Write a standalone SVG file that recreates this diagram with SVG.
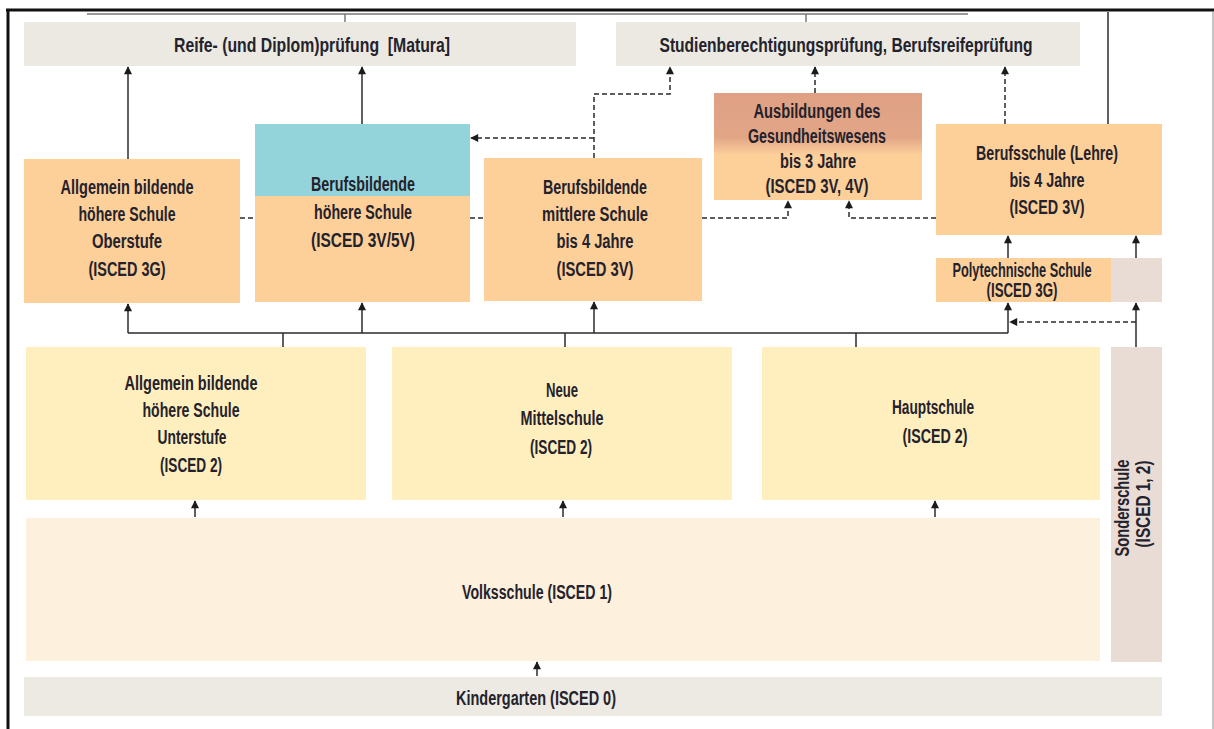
<svg xmlns="http://www.w3.org/2000/svg" width="1214" height="729" viewBox="0 0 1214 729">
  <style>
    .t { font-family: "Liberation Sans", "DejaVu Sans Condensed", "Roboto", sans-serif; font-weight: bold; font-size: 20px; fill: #24222c; text-anchor: middle; }
    .exam { fill: #EBE9E2; }
    .upper { fill: #FDD09A; }
    .lower { fill: #FFEFBE; }
    .prim { fill: #FDF0DC; }
    .spec { fill: #E9DCD5; }
    .kg { fill: #EDEAE3; }
    .solid { fill: none; stroke: #2b2b2b; stroke-width: 1.5; }
    .dash { fill: none; stroke: #2b2b2b; stroke-width: 1.5; stroke-dasharray: 5 3; }
    .thin { fill: none; stroke: #7a7a7a; stroke-width: 1.5; }
  </style>
  <defs>
    <marker id="arr" viewBox="0 0 10 10" refX="9" refY="5" markerWidth="9" markerHeight="8" markerUnits="userSpaceOnUse" orient="auto">
      <path d="M0 0 L10 5 L0 10 Z" fill="#1b1b1b"/>
    </marker>
    <linearGradient id="health" x1="0" y1="0" x2="0" y2="1">
      <stop offset="0" stop-color="#DFA084"/>
      <stop offset="0.42" stop-color="#E2A687"/>
      <stop offset="0.58" stop-color="#FDD09A"/>
      <stop offset="1" stop-color="#FDD09A"/>
    </linearGradient>
  </defs>

  <!-- page frame -->
  <g id="frame">
    <line x1="6" y1="10" x2="1214" y2="10" stroke="#111" stroke-width="3"/>
    <line x1="8" y1="9" x2="8" y2="729" stroke="#111" stroke-width="3"/>
    <line x1="1213" y1="12" x2="1213" y2="729" stroke="#8a8a8a" stroke-width="1"/>
  </g>

  <!-- exams -->
  <g id="matura">
    <rect class="exam" x="24" y="22" width="552" height="44"/>
    <text class="t" x="312" y="52" textLength="276" lengthAdjust="spacingAndGlyphs">Reife- (und Diplom)prüfung&#160; [Matura]</text>
  </g>
  <g id="studienberechtigung">
    <rect class="exam" x="616" y="22" width="464" height="44"/>
    <text class="t" x="846" y="52" textLength="373" lengthAdjust="spacingAndGlyphs">Studienberechtigungsprüfung, Berufsreifeprüfung</text>
  </g>

  <!-- upper secondary -->
  <g id="ahs-oberstufe">
    <rect class="upper" x="24" y="159" width="216" height="144"/>
    <text class="t" x="127" y="194" textLength="133" lengthAdjust="spacingAndGlyphs">Allgemein bildende</text>
    <text class="t" x="127" y="221" textLength="97" lengthAdjust="spacingAndGlyphs">höhere Schule</text>
    <text class="t" x="127" y="248" textLength="70" lengthAdjust="spacingAndGlyphs">Oberstufe</text>
    <text class="t" x="127" y="276" textLength="77" lengthAdjust="spacingAndGlyphs">(ISCED 3G)</text>
  </g>
  <g id="bhs">
    <rect class="upper" x="255" y="124" width="215" height="178"/>
    <rect x="255" y="124" width="215" height="72" fill="#93D4DA"/>
    <text class="t" x="363" y="191" textLength="104" lengthAdjust="spacingAndGlyphs">Berufsbildende</text>
    <text class="t" x="363" y="219" textLength="98" lengthAdjust="spacingAndGlyphs">höhere Schule</text>
    <text class="t" x="363" y="247" textLength="104" lengthAdjust="spacingAndGlyphs">(ISCED 3V/5V)</text>
  </g>
  <g id="bms">
    <rect class="upper" x="484" y="158" width="218" height="143"/>
    <text class="t" x="595" y="194" textLength="104" lengthAdjust="spacingAndGlyphs">Berufsbildende</text>
    <text class="t" x="595" y="221" textLength="106" lengthAdjust="spacingAndGlyphs">mittlere Schule</text>
    <text class="t" x="595" y="248" textLength="77" lengthAdjust="spacingAndGlyphs">bis 4 Jahre</text>
    <text class="t" x="595" y="276" textLength="77" lengthAdjust="spacingAndGlyphs">(ISCED 3V)</text>
  </g>
  <g id="gesundheit">
    <rect x="714" y="93" width="208" height="107" fill="url(#health)"/>
    <text class="t" x="817" y="118" textLength="127" lengthAdjust="spacingAndGlyphs">Ausbildungen des</text>
    <text class="t" x="817" y="143" textLength="138" lengthAdjust="spacingAndGlyphs">Gesundheitswesens</text>
    <text class="t" x="818" y="168" textLength="76" lengthAdjust="spacingAndGlyphs">bis 3 Jahre</text>
    <text class="t" x="817" y="193" textLength="103" lengthAdjust="spacingAndGlyphs">(ISCED 3V, 4V)</text>
  </g>
  <g id="berufsschule">
    <rect class="upper" x="936" y="124" width="226" height="111"/>
    <text class="t" x="1047" y="160" textLength="142" lengthAdjust="spacingAndGlyphs">Berufsschule (Lehre)</text>
    <text class="t" x="1047" y="187" textLength="75" lengthAdjust="spacingAndGlyphs">bis 4 Jahre</text>
    <text class="t" x="1047" y="214" textLength="75" lengthAdjust="spacingAndGlyphs">(ISCED 3V)</text>
  </g>
  <g id="polytechnisch">
    <rect class="upper" x="936" y="258" width="176" height="44"/>
    <rect class="spec" x="1111" y="258" width="51" height="44"/>
    <text class="t" x="1022" y="277" textLength="139" lengthAdjust="spacingAndGlyphs">Polytechnische Schule</text>
    <text class="t" x="1022" y="297" textLength="71" lengthAdjust="spacingAndGlyphs">(ISCED 3G)</text>
  </g>

  <!-- lower secondary -->
  <g id="ahs-unterstufe">
    <rect class="lower" x="26" y="347" width="340" height="153"/>
    <text class="t" x="191" y="390" textLength="133" lengthAdjust="spacingAndGlyphs">Allgemein bildende</text>
    <text class="t" x="191" y="417" textLength="97" lengthAdjust="spacingAndGlyphs">höhere Schule</text>
    <text class="t" x="192" y="444" textLength="69" lengthAdjust="spacingAndGlyphs">Unterstufe</text>
    <text class="t" x="191" y="472" textLength="62" lengthAdjust="spacingAndGlyphs">(ISCED 2)</text>
  </g>
  <g id="nms">
    <rect class="lower" x="392" y="347" width="340" height="153"/>
    <text class="t" x="562" y="397" textLength="32" lengthAdjust="spacingAndGlyphs">Neue</text>
    <text class="t" x="562" y="425" textLength="83" lengthAdjust="spacingAndGlyphs">Mittelschule</text>
    <text class="t" x="561" y="454" textLength="62" lengthAdjust="spacingAndGlyphs">(ISCED 2)</text>
  </g>
  <g id="hauptschule">
    <rect class="lower" x="762" y="347" width="338" height="153"/>
    <text class="t" x="933" y="414" textLength="82" lengthAdjust="spacingAndGlyphs">Hauptschule</text>
    <text class="t" x="935" y="443" textLength="65" lengthAdjust="spacingAndGlyphs">(ISCED 2)</text>
  </g>
  <g id="sonderschule">
    <rect class="spec" x="1111" y="347" width="51" height="315"/>
    <text class="t" transform="translate(1129 508) rotate(-90)" textLength="97" lengthAdjust="spacingAndGlyphs">Sonderschule</text>
    <text class="t" transform="translate(1150 504) rotate(-90)" textLength="87" lengthAdjust="spacingAndGlyphs">(ISCED 1, 2)</text>
  </g>

  <!-- primary and pre-primary -->
  <g id="volksschule">
    <rect class="prim" x="26" y="518" width="1074" height="143"/>
    <text class="t" x="537" y="599" textLength="150" lengthAdjust="spacingAndGlyphs">Volksschule (ISCED 1)</text>
  </g>
  <g id="kindergarten">
    <rect class="kg" x="24" y="677" width="1138" height="39"/>
    <text class="t" x="536" y="705" textLength="160" lengthAdjust="spacingAndGlyphs">Kindergarten (ISCED 0)</text>
  </g>

  <!-- connectors -->
  <g id="connectors">
    <path class="thin" d="M87 14 H968 M345 14 V22 M806 14 V22"/>
    <path class="solid" d="M1108 12 V124"/>

    <path class="solid" marker-end="url(#arr)" d="M128 159 V67"/>
    <path class="solid" marker-end="url(#arr)" d="M362 124 V67"/>

    <path class="dash" marker-end="url(#arr)" d="M594 158 V94 H670 V67"/>
    <path class="dash" marker-end="url(#arr)" d="M594 138 H471"/>
    <path class="dash" marker-end="url(#arr)" d="M815 93 V67"/>
    <path class="dash" marker-end="url(#arr)" d="M1005 124 V67"/>

    <path class="dash" d="M240 218 H255 M470 218 H484"/>
    <path class="dash" marker-end="url(#arr)" d="M702 218 H788 V201"/>
    <path class="dash" marker-end="url(#arr)" d="M936 218 H849 V201"/>

    <path class="solid" marker-end="url(#arr)" d="M1008 258 V236"/>
    <path class="solid" marker-end="url(#arr)" d="M1136 258 V236"/>

    <path class="solid" d="M128 333 H1008 M283 333 V347 M565 333 V347 M856 333 V347"/>
    <path class="solid" marker-end="url(#arr)" d="M128 333 V304"/>
    <path class="solid" marker-end="url(#arr)" d="M362 333 V303"/>
    <path class="solid" marker-end="url(#arr)" d="M594 333 V302"/>
    <path class="solid" marker-end="url(#arr)" d="M1008 333 V303"/>
    <path class="solid" marker-end="url(#arr)" d="M1136 347 V303"/>
    <path class="dash" marker-end="url(#arr)" d="M1136 322 H1010"/>

    <path class="solid" marker-end="url(#arr)" d="M195 517 V501"/>
    <path class="solid" marker-end="url(#arr)" d="M563 517 V501"/>
    <path class="solid" marker-end="url(#arr)" d="M935 517 V501"/>
    <path class="solid" marker-end="url(#arr)" d="M537 676 V662"/>
  </g>
</svg>
